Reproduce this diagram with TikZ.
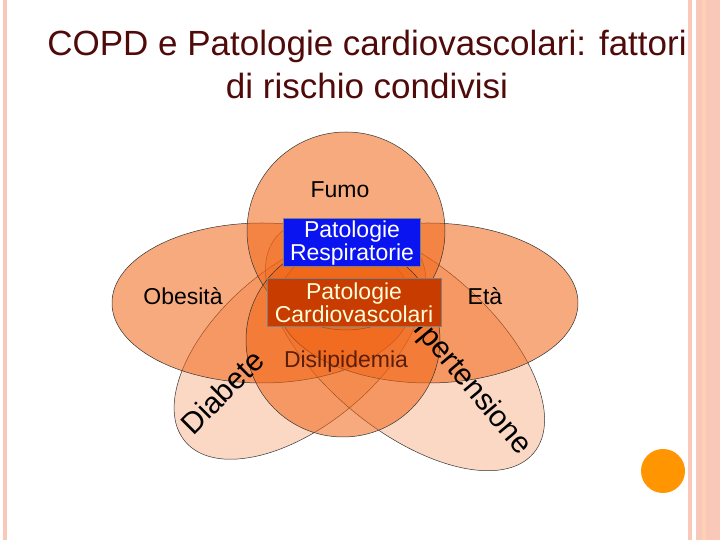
\documentclass[tikz,border=0pt]{standalone}
\usepackage{fontspec}
\setmainfont{Liberation Sans}
\definecolor{venn}{RGB}{240,100,20}
\definecolor{frame}{RGB}{250,200,185}
\definecolor{titlered}{RGB}{80,10,10}
\definecolor{respblue}{RGB}{10,20,240}
\definecolor{cardred}{RGB}{200,60,0}
\definecolor{darkbrown}{RGB}{90,30,10}
\begin{document}
\begin{tikzpicture}[x=1pt,y=1pt,
    blob/.style={draw=black!80,line width=0.5pt,fill=venn,fill opacity=0.55},
    lightblob/.style={draw=black!80,line width=0.5pt,fill=venn,fill opacity=0.25},
    lab/.style={font=\fontsize{23}{23}\selectfont,text=black},
    bigtext/.style={font=\fontsize{30}{30}\selectfont,text=black},
    box/.style={draw=gray,line width=1pt,align=center,inner sep=0pt,
        font=\fontsize{23}{20}\selectfont,text=white}]
  \useasboundingbox (0,0) rectangle (720,540);
  % frame strips
  \fill[frame] (3,0) rectangle (7,540);
  \fill[frame] (688,0) rectangle (692,540);
  \fill[frame] (696,0) rectangle (720,540);
  \fill[frame!70!orange!60] (702,0) rectangle (706,540);
  \fill[orange!70!yellow!90!red] (663,69) circle (22);
  % title
  \node[text=titlered,font=\fontsize{35}{43}\selectfont,align=center] (title) at (367,476)
    {COPD e Patologie cardiovascolari: fattori\\di rischio condivisi};
  % sets
  \path[lightblob] (300,195) ellipse[x radius=150,y radius=80,rotate=40];
  \path[lightblob] (405,195) ellipse[x radius=168,y radius=84,rotate=-40];
  \path[blob] (262,237) ellipse[x radius=150,y radius=80];
  \path[blob] (428,237) ellipse[x radius=150,y radius=80];
  \path[blob] (346,309) circle (99);
  \path[blob] (343,200) circle (97);
  % labels
  \node[lab] (fumo) at (340,350) {Fumo};
  \node[lab] (obesita) at (183,244) {Obesità};
  \node[lab] (eta) at (485,244) {Età};
  \node[lab,text=darkbrown] (dislip) at (346,178) {Dislipidemia};
  \node[bigtext,rotate=45] (diabete) at (222,148) {Diabete};
  \node[bigtext,rotate=-50] (iper) at (472,152) {Ipertensione};
  \node[box,fill=respblue,minimum width=137,minimum height=48] (resp) at (352,297)
    {Patologie\\Respiratorie};
  \node[box,fill=cardred,text=white!85!yellow,minimum width=174,minimum height=48] (cardio) at (354,237)
    {Patologie\\Cardiovascolari};
\end{tikzpicture}
\end{document}
